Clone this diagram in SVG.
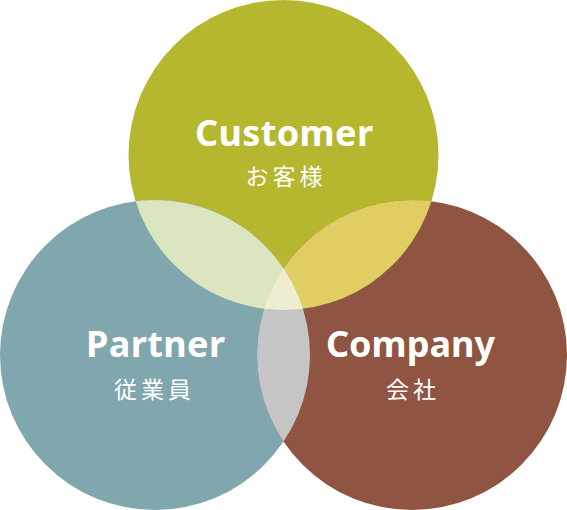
<svg xmlns="http://www.w3.org/2000/svg" width="567" height="510" viewBox="0 0 567 510">
<style>
.en{font-family:"Noto Sans",Roboto,sans-serif;font-weight:700;font-size:36px;fill:#fff;text-anchor:middle}
.ja{font-family:"Noto Sans CJK JP",sans-serif;font-size:23px;fill:#fff;text-anchor:middle;letter-spacing:4px}
</style>
<defs>
<clipPath id="cT"><circle cx="283.5" cy="155" r="155"/></clipPath>
<clipPath id="cL"><circle cx="155" cy="355" r="155"/></clipPath>
<clipPath id="cR"><circle cx="412" cy="355" r="155"/></clipPath>
</defs>
<g id="customer-circle"><circle cx="283.5" cy="155" r="155" fill="#b5b82f"/></g>
<g id="partner-circle"><circle cx="155" cy="355" r="155" fill="#7fa7ad"/></g>
<g id="company-circle"><circle cx="412" cy="355" r="155" fill="#8f5542"/></g>
<g id="overlaps">
<circle cx="155" cy="355" r="155" fill="#dbe6c1" clip-path="url(#cT)"/>
<circle cx="412" cy="355" r="155" fill="#e0ce62" clip-path="url(#cT)"/>
<circle cx="412" cy="355" r="155" fill="#c6c5c5" clip-path="url(#cL)"/>
<g clip-path="url(#cT)"><circle cx="412" cy="355" r="155" fill="#efedd0" clip-path="url(#cL)"/></g>
</g>
<g id="customer"><text class="en" x="284" y="146" textLength="178" lengthAdjust="spacing">Customer</text><text class="ja" x="286" y="185">お客様</text></g>
<g id="partner"><text class="en" x="155.5" y="357" textLength="139" lengthAdjust="spacing">Partner</text><text class="ja" x="154.5" y="398">従業員</text></g>
<g id="company"><text class="en" x="410.5" y="357" textLength="169" lengthAdjust="spacing">Company</text><text class="ja" x="413" y="398">会社</text></g>
</svg>
